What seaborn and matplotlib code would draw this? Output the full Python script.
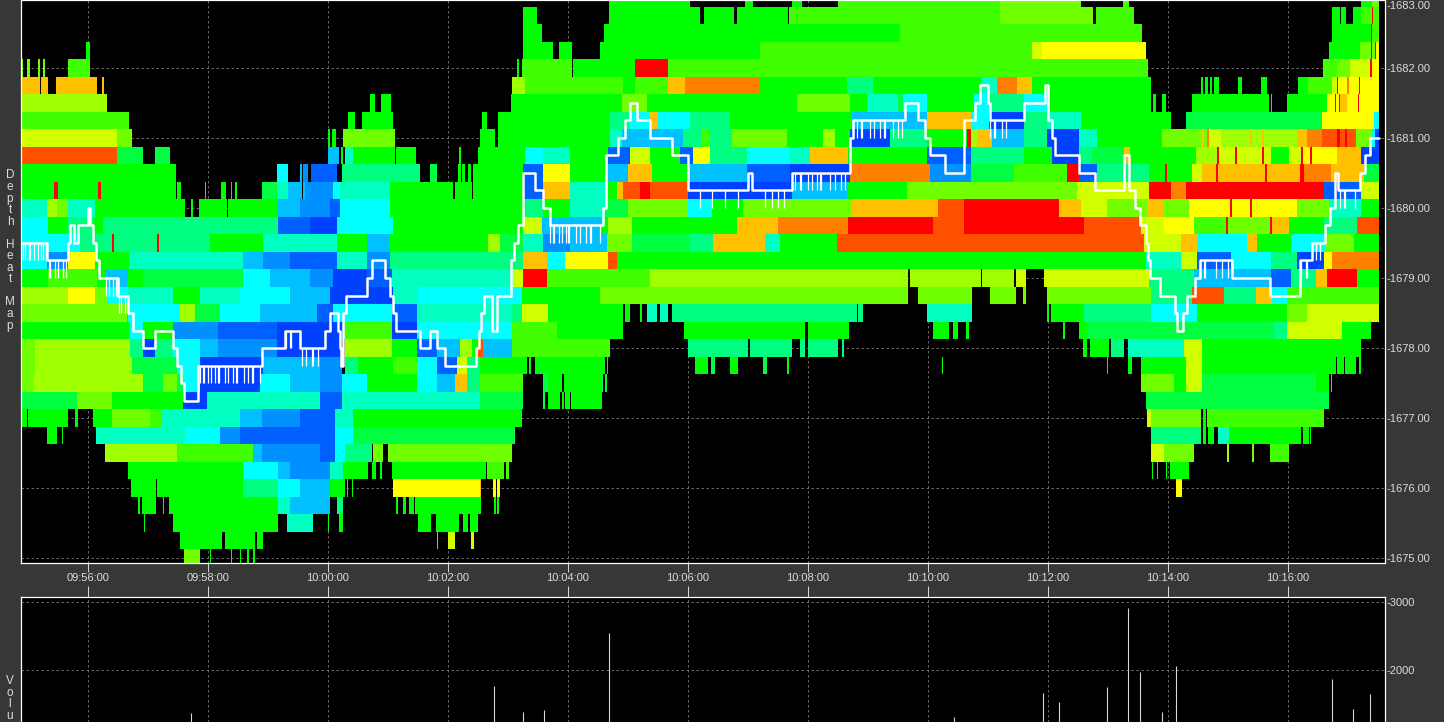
"""
Depth heat map with last price trace and volume panel
"""

import re
import numpy as np
import pandas as pd
import matplotlib.pyplot as plt
import seaborn as sns
from matplotlib.colors import ListedColormap

sns.set_style("white")
plt.rcParams['font.family'] = ['Liberation Sans', 'DejaVu Sans']

# time is seconds since 09:54:32
tick_secs = [88, 208, 328, 448, 568, 688, 808, 928, 1048, 1168, 1288]
tick_labels = ['09:56:00', '09:58:00', '10:00:00', '10:02:00', '10:04:00', '10:06:00',
               '10:08:00', '10:10:00', '10:12:00', '10:14:00', '10:16:00']
price_ticks = [1675, 1676, 1677, 1678, 1679, 1680, 1681, 1682]
volume_ticks = [2000, 3000]

# heat levels, coldest to hottest
level_codes = 'ABCDEFGHIJKLMNOPQR'
level_colors = ['#0040ff', '#0060ff', '#0090ff', '#00c0ff', '#00ffff', '#00ffc0',
                '#00ff80', '#00ff40', '#00ff00', '#40ff00', '#70ff00', '#a0ff00',
                '#d0ff00', '#ffff00', '#ffc000', '#ff8000', '#ff5000', '#ff0000']

# one line per price level from 1683.00 down to 1675.00, each token = level up to second
depth_rows = [
    ".609 I690 .745 I753 .792 I802 .838 J1000 K1081 .1123 J1129 .1361 I1372 K1379",
    ".523 I537 .609 I700 .704 I734 .737 I788 .789 J1000 K1093 .1096 J1134 .1332 I1340 .1341 I1346 .1353 I1361 J1372 R1373 J1379",
    ".523 I542 .604 I900 J1142 .1332 I1371 R1372 J1379",
    ".86 I90 .523 I553 .559 I572 .600 I760 J1032 M1042 N1146 .1329 I1360 K1371 R1372 K1375 R1376 N1379",
    ".21 K23 .27 K30 .38 K40 .43 K45 .68 J90 .517 I519 .522 J572 .573 I635 R668 J1148 .1323 J1337 K1350 M1370 R1372 N1379",
    ".22 O40 .41 O48 .56 O97 .102 O104 .512 L525 J623 I635 J668 O685 P759 I847 G873 I981 F997 P1017 O1032 I1151 .1201 I1203 .1205 I1208 .1210 I1212 .1214 I1219 .1238 I1242 .1261 I1267 .1298 I1308 J1332 M1337 R1338 N1347 P1349 N1359 R1360 N1379",
    ".22 L107 .370 I375 .381 I391 .511 I622 K647 I797 K850 I867 F898 H903 E927 I974 E989 G1024 E1047 I1151 .1153 I1156 .1162 I1166 .1192 I1269 .1271 I1272 .1287 I1327 N1335 R1336 N1339 R1340 O1347 N1358 R1359 N1379",
    ".22 J129 .348 I350 .350 I355 .362 I393 .482 I487 .498 I610 G630 E650 O658 E690 G730 I852 D927 O971 E989 A1024 G1047 F1081 I1171 .1186 H1322 N1374 E1379",
    ".22 M117 K132 .328 I330 .332 I336 .343 K395 .480 I495 .498 I610 F622 D683 G702 J710 G732 K787 I823 L835 I850 A890 G927 I967 R971 L977 O992 D1024 G1047 A1079 F1097 I1162 K1201 O1204 K1207 P1209 M1221 L1250 O1252 L1262 O1264 L1297 O1307 P1322 Q1337 R1340 Q1345 R1347 Q1356 K1371 E1375 A1379",
    ".22 Q117 H143 .155 H170 .328 D339 .341 I343 .345 F353 I395 .396 I416 .459 I461 .478 I525 E543 F570 I608 B630 M650 I680 B693 N710 G747 E790 F810 O848 I927 B971 G1024 I1052 A1079 G1092 H1124 O1130 I1196 L1217 R1219 M1235 R1237 M1262 R1264 M1271 I1289 M1301 R1303 N1310 R1312 N1337 O1361 A1379",
    ".22 I176 .277 E288 .300 D302 .303 C308 .311 B337 .342 G420 .430 H437 .458 I461 .462 I465 .468 I471 .473 I523 B543 N570 I608 D628 O652 I687 D747 B790 A850 P930 C971 H1014 J1067 R1079 B1097 G1149 I1165 R1167 I1192 M1202 O1216 R1218 O1265 R1267 O1300 R1304 P1331 O1364 H1379",
    ".22 I54 R58 I98 R101 I176 .177 I181 .205 I206 .221 I226 .231 I232 .235 I237 .262 H277 F288 D302 .303 D305 C333 E340 F390 I453 .455 I472 .473 I523 B543 O570 F607 I617 O623 Q640 R650 Q688 A792 D847 I907 K1077 M1149 R1171 P1186 R1324 B1361 M1379",
    ".22 F47 L57 K68 F95 I185 .191 I193 .199 I227 .228 I278 D300 C330 B340 E390 I523 G543 I570 F605 H628 K687 E712 I743 K852 O938 Q964 R1059 O1081 M1107 K1147 O1164 K1189 N1230 R1232 N1250 R1252 N1297 K1329 F1361 I1379",
    ".22 E48 I68 G93 I103 G278 B310 A337 E393 I523 M542 D602 I608 L632 I737 O778 P848 R933 Q964 R1084 Q1141 M1164 N1194 J1226 R1228 K1270 R1272 O1289 I1324 G1357 Q1379",
    ".22 E80 G112 R114 G157 R159 G210 I263 F337 I367 D390 I488 L500 H523 F543 C570 D607 K632 H690 G713 O765 F780 I837 Q1144 M1181 O1197 E1247 O1257 I1291 E1326 K1354 I1379",
    ".22 E47 C68 N95 I129 F243 D263 C290 B337 F367 C390 G523 O547 E565 N608 Q617 I1146 F1181 M1197 B1231 E1271 G1297 A1324 N1332 P1379",
    ".22 I48 J97 I105 D128 I143 H243 E270 D310 C333 A367 B392 F513 M523 R547 J650 L908 .910 L981 .982 L1014 .1016 M1026 .1044 M1149 G1194 D1271 B1291 G1316 O1327 R1357 I1379",
    ".22 L68 N95 K107 E128 F173 I200 F240 E290 D330 A393 F417 E522 I600 K908 .918 K972 .990 K1016 .1023 K1026 .1047 K1151 G1192 Q1224 G1256 O1272 E1287 J1379",
    ".22 K127 P128 E180 L195 H220 E260 D317 B333 E392 B417 F512 G522 M548 I623 .625 I630 .640 I642 .647 F657 .660 F668 .672 G857 .858 G863 .927 F972 .1047 I1049 .1051 I1084 G1151 E1197 I1287 K1307 M1379",
    ".22 I130 E143 I173 C218 B277 A343 J392 A417 E512 J557 I623 .684 I805 .808 I849 .933 I949 .953 I958 .966 I969 .1063 I1065 .1079 I1087 H1274 G1287 M1342 I1371",
    ".22 K35 L130 G143 A155 G173 E200 D218 C277 A342 .345 L392 I417 B437 D460 L472 I478 Q483 D512 J610 .688 G748 .750 G792 .800 G805 .808 G838 .842 G844 .1083 I1087 .1090 I1109 .1111 G1124 .1128 F1184 M1202 I1361",
    ".22 K35 L132 H177 E200 A263 D320 C342 .345 G358 I393 J417 E437 B457 M467 G480 I527 .529 I531 .535 I605 .607 I608 .695 I708 .711 H715 .730 I738 .763 H767 .787 I789 .942 I943 .1107 I1108 .1128 I1132 .1141 I1186 M1202 I1336 .1337 I1344 .1345 I1356 .1359 I1361",
    ".22 K33 O34 L143 H163 K177 H183 E200 A260 E290 D320 C342 E367 I417 E437 D455 O467 G480 J523 .543 H548 I562 .564 I602 H603 .605 H607 .1141 K1174 I1186 M1202 H1316 I1329 .1331 I1332",
    ".22 H77 K112 I183 A207 F320 B342 F480 H523 .543 H545 .548 I560 .562 I564 .565 I570 .571 I602 .1146 H1329",
    ".22 I27 .28 I68 .75 I78 .93 I112 K150 J162 F240 D262 C300 B335 F353 I522 .1147 M1151 K1201 .1203 I1206 .1207 J1324",
    ".47 I57 .62 I63 .96 F185 E220 C240 B335 E353 H515 .1151 G1201 .1203 I1206 .1208 I1214 .1218 F1229 I1301 .1303 I1309 .1310 I1311",
    ".105 L177 J253 D262 C320 B335 E345 G372 .373 K383 .388 K512 .1151 M1164 K1194 .1227 L1229 .1252 K1254 .1270 J1289",
    ".128 I243 E278 D290 C330 F343 I368 .372 I376 .380 I382 .392 I486 .487 J504 .506 J509 .1152 I1153 .1157 I1158 .1166 I1167 .1170 I1189",
    ".131 I156 .157 I243 G278 E300 D330 I345 .347 I348 .352 I353 .393 N480 O481 .493 N496 .497 N500 .1176 N1182",
    ".138 I140 .142 I156 .163 I164 .169 I278 F290 D330 .337 G343 .396 I398 .403 I406 .409 I414 .415 I481 .494 I496 .497 I499",
    ".144 I145 .173 I278 .287 F313 .328 I329 .339 I343 .418 I431 .436 I459 .463 I468 .470 I478",
    ".180 I222 .225 I255 .257 I263 .437 J438 .448 M455 .471 M474",
    ".184 K200 .210 I211 .231 I232 .240 I241 .247 I249 .253 I255",
]

# last price trace
trade_secs = [21, 47, 68, 70, 74, 78, 88, 90, 93, 96, 99, 105, 118, 128, 133, 143, 155, 173, 177, 181, 184,
              198, 262, 285, 300, 325, 330, 338, 340, 341, 343, 346, 367, 372, 385, 390, 393, 396, 420, 430,
              437, 445, 470, 476, 479, 481, 484, 492, 497, 511, 514, 518, 523, 535, 543, 550, 603, 606, 618,
              625, 630, 637, 650, 672, 688, 748, 752, 792, 850, 853, 905, 918, 925, 930, 945, 964, 975, 980,
              988, 990, 1024, 1045, 1048, 1052, 1055, 1079, 1095, 1124, 1129, 1135, 1140, 1146, 1148, 1150,
              1160, 1175, 1177, 1183, 1187, 1195, 1200, 1232, 1270, 1300, 1312, 1325, 1330, 1335, 1338, 1360,
              1365, 1370, 1379]
trade_prices = [1679.5, 1679.25, 1679.5, 1679.75, 1679.5, 1679.75, 1680.0, 1679.75, 1679.5, 1679.25, 1679.0,
                1679.0, 1678.75, 1678.5, 1678.25, 1678.0, 1678.25, 1678.0, 1677.75, 1677.5, 1677.25,
                1677.75, 1678.0, 1678.25, 1678.0, 1678.25, 1678.5, 1678.25, 1678.0, 1677.75, 1678.5, 1678.75,
                1679.0, 1679.25, 1679.0, 1678.75, 1678.5, 1678.25, 1678.0, 1678.25,
                1678.0, 1677.75, 1677.75, 1678.0, 1678.25, 1678.5, 1678.75, 1678.25, 1678.75, 1679.25, 1679.5,
                1679.75, 1680.5, 1680.25, 1680.0, 1679.75, 1680.0, 1680.75, 1681.0,
                1681.25, 1681.5, 1681.25, 1681.0, 1680.75, 1680.25, 1680.5, 1680.25, 1680.5, 1681.0, 1681.25,
                1681.5, 1681.25, 1681.0, 1680.75, 1680.5, 1681.25, 1681.5, 1681.75,
                1681.5, 1681.25, 1681.5, 1681.75, 1681.25, 1681.0, 1680.75, 1680.5, 1680.25, 1680.75, 1680.25,
                1680.0, 1679.75, 1679.5, 1679.25, 1679.0,
                1678.75, 1678.5, 1678.25, 1678.5, 1678.75, 1679.0, 1679.25, 1679.0, 1678.75, 1679.25, 1679.5,
                1679.75, 1680.0, 1680.5, 1680.25, 1680.5,
                1680.75, 1681.0, 1681.0]

# quick dips one tick below the trace
dip_secs = [23, 25, 29, 30, 34, 38, 41, 43, 46, 49, 50, 55, 58, 63, 66,
            106, 109, 113, 116, 119, 121, 125,
            200, 203, 204, 208, 211, 215, 218, 219, 225, 228, 233, 236, 237, 244, 248, 252, 253, 260,
            286, 290, 291, 302, 306, 312, 313, 318,
            550, 553, 554, 559, 562, 566, 568, 569, 576, 580, 586, 590, 591, 600,
            700, 712, 725, 738, 765, 772, 778, 784,
            795, 800, 801, 808, 812, 817, 820, 821, 830, 835, 841, 845,
            857, 861, 862, 870, 874, 880, 884, 885, 893, 898, 902,
            990, 994, 995, 1002, 1006, 1200, 1204, 1205, 1216, 1222, 1228,
            1301, 1306, 1307, 1316, 1320, 1340, 1344, 1345, 1355]

volume_secs = [191, 494, 523, 544, 609, 954, 1043, 1059, 1107, 1128, 1140, 1162, 1176, 1332, 1353, 1370]
volume_values = [1368, 1765, 1382, 1412, 2544, 1309, 1662, 1529, 1750, 2912, 1971, 1382, 2059, 1868, 1426, 1647]

# expand the rows into one cell per second
n_secs = 1380
heat = np.full((len(depth_rows), n_secs), np.nan)
for r, row in enumerate(depth_rows):
    start = 0
    for code, until in re.findall(r'([A-R.])(\d+)', row):
        until = int(until)
        if code != '.':
            heat[r, start:until] = level_codes.index(code)
        start = until
heat_df = pd.DataFrame(heat)


def price_row(price):
    return (1683 - np.asarray(price, dtype=float)) / 0.25 + 0.5


BG = '#363835'
W, H = 1444, 722
GRID = '#7c7c7c'
TXT = '#dcdcdc'

fig = plt.figure(figsize=(W / 100, H / 100), dpi=100, facecolor=BG)
ax = fig.add_axes([21 / W, (H - 563) / H, 1364 / W, 563 / H])
vol = fig.add_axes([21 / W, 0, 1364 / W, (H - 597) / H])

sns.heatmap(heat_df, ax=ax, cmap=ListedColormap(level_colors), vmin=-0.5, vmax=17.5,
            cbar=False, xticklabels=False, yticklabels=False)
ax.set_facecolor('black')
ax.set_xlim(21, 1385)
ax.set_ylim(price_row(1674.93), price_row(1682.97))
ax.set_xlabel('')
ax.set_ylabel('')

sns.lineplot(x=trade_secs, y=price_row(trade_prices), ax=ax, estimator=None, sort=False,
             drawstyle='steps-post', color='white', linewidth=1.8, zorder=3)
dip_idx = np.searchsorted(trade_secs, dip_secs, side='right') - 1
dip_top = np.array(trade_prices)[dip_idx]
ax.vlines(dip_secs, price_row(dip_top), price_row(dip_top - 0.25), color='white', linewidth=0.9, zorder=3)

ax.set_xticks(tick_secs)
ax.set_xticklabels(tick_labels, fontsize=8, color=TXT)
ax.set_yticks(price_row(price_ticks))
ax.set_yticklabels([f'-{p:.2f}' for p in price_ticks], fontsize=8, color=TXT)
ax.yaxis.tick_right()
ax.tick_params(axis='x', bottom=True, length=6.5, width=0.7, color=TXT, pad=1)
ax.tick_params(axis='y', right=False, left=False, length=0, pad=1.2)
# top label sits just inside the picture
ax.annotate('-1683.00', xy=(1.0, 1.0), xycoords='axes fraction', xytext=(1.2, -0.5),
            textcoords='offset points', fontsize=8, color=TXT, ha='left', va='top')
ax.grid(True, color=GRID, linestyle=(0, (3, 3)), linewidth=0.6)
ax.set_axisbelow(True)
for side in ['left', 'bottom', 'right', 'top']:
    ax.spines[side].set_visible(True)
    ax.spines[side].set_color('white')
    ax.spines[side].set_linewidth(0.9)

vol.set_facecolor('black')
vol.vlines(volume_secs, 0, volume_values, color='#d8d8d8', linewidth=0.8, zorder=3)
vol.set_xlim(21, 1385)
vol.set_ylim(1235, 3074)
vol.set_xticks(tick_secs)
vol.set_xticklabels([])
vol.xaxis.tick_top()
vol.set_yticks(volume_ticks)
vol.set_yticklabels([f'-{v}' for v in volume_ticks], fontsize=8, color=TXT)
vol.yaxis.tick_right()
vol.tick_params(axis='x', top=True, length=8, width=0.7, color=TXT)
vol.tick_params(axis='y', right=False, left=False, length=0, pad=1.2)
vol.grid(True, color=GRID, linestyle=(0, (3, 3)), linewidth=0.6)
vol.set_axisbelow(True)
for side in ['left', 'top', 'right']:
    vol.spines[side].set_color('white')
    vol.spines[side].set_linewidth(0.9)
vol.spines['bottom'].set_visible(False)

fig.text(10 / W, 1 - 250.5 / H, 'D\ne\np\nt\nh\n\nH\ne\na\nt\n\nM\na\np', color=TXT, fontsize=8.5,
         ha='center', va='center', linespacing=0.95)
fig.text(10 / W, 1 - 698.5 / H, 'V\no\nl\nu', color=TXT, fontsize=8.5,
         ha='center', va='center', linespacing=0.95)

fig.savefig('out.png', dpi=100, facecolor=BG)
print('[OK] out.png')
